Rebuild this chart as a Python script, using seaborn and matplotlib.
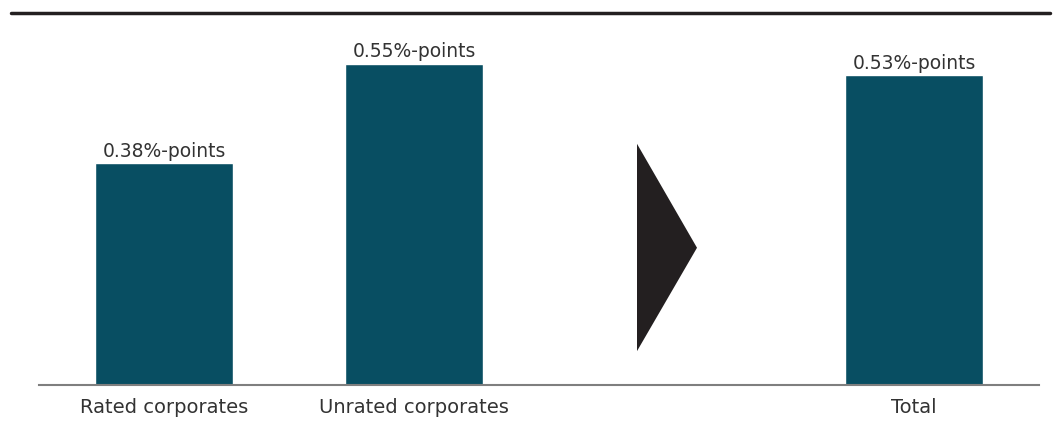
import matplotlib
matplotlib.use("Agg")
import matplotlib.pyplot as plt
from matplotlib.patches import Polygon
from matplotlib.lines import Line2D
import seaborn as sns
import pandas as pd

# Spread increase by borrower group (percentage points)
categories = ["Rated corporates", "Unrated corporates", "Total"]
values = [0.38, 0.55, 0.53]
# Slot order along the x axis; the blank slot holds the arrow
slot_order = ["Rated corporates", "Unrated corporates", " ", "Total"]

BAR_COLOR = "#084e62"
TEXT_COLOR = "#333333"
DARK = "#231f20"

sns.set_theme(style="white")
plt.rcParams["font.family"] = ["DejaVu Sans"]

df = pd.DataFrame({"group": categories, "spread": values})

fig = plt.figure(figsize=(10.55, 4.39), dpi=100)
ax = fig.add_axes([39 / 1055, 1 - 386 / 439, 1000 / 1055, 372 / 439])

sns.barplot(data=df, x="group", y="spread", order=slot_order,
            color=BAR_COLOR, saturation=1, width=0.55, ax=ax)

ax.set_ylim(0, 0.637)
ax.set_xlim(-0.5, 3.5)

for p in ax.patches:
    h = p.get_height()
    if h != h or h == 0:
        continue
    ax.annotate(f"{h:.2f}%-points", (p.get_x() + p.get_width() / 2, h),
                xytext=(0, 2.5), textcoords="offset points",
                ha="center", va="bottom", fontsize=13.5, color=TEXT_COLOR)

# Arrow between the group bars and the total
arrow = Polygon([(1.892, 0.413), (2.132, 0.235), (1.892, 0.058)],
                closed=True, facecolor=DARK, edgecolor="none")
ax.add_patch(arrow)

ax.set_xlabel("")
ax.set_ylabel("")
ax.set_yticks([])
ax.tick_params(axis="x", length=0, labelsize=14, labelcolor=TEXT_COLOR, pad=9)
for side in ["left", "right", "top"]:
    ax.spines[side].set_visible(False)
ax.spines["bottom"].set_color("#7f7f7f")
ax.spines["bottom"].set_linewidth(1.5)

# Heavy rule across the top of the figure
fig.add_artist(Line2D([11 / 1055, 1050 / 1055], [1 - 14 / 439, 1 - 14 / 439],
                      color=DARK, linewidth=2.5, transform=fig.transFigure))

fig.savefig("out.png", dpi=100)
